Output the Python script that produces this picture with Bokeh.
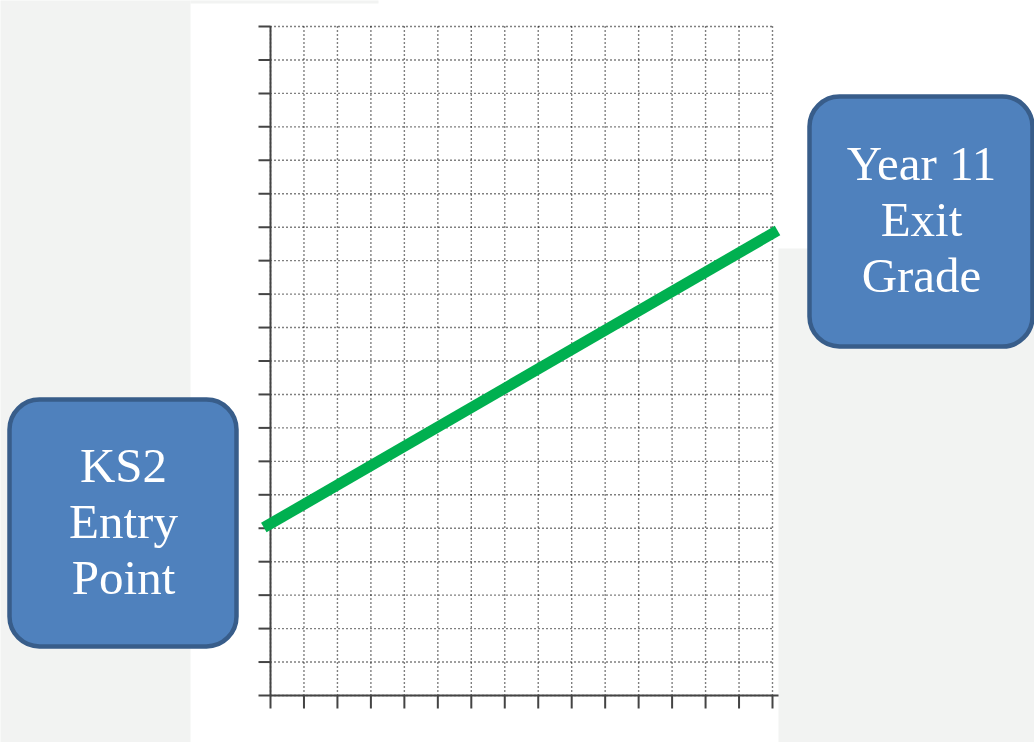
from bokeh.plotting import figure
from bokeh.models import Range1d, BoxAnnotation, Label
from bokeh.embed import file_html
from bokeh.resources import INLINE

# ---- data ----
x_ticks = list(range(16))
y_ticks = list(range(21))
line_x = [-0.2, 15.15]
line_y = [5.02, 13.9]
left_box_lines = ["KS2", "Entry", "Point"]
right_box_lines = ["Year 11", "Exit", "Grade"]

GRAY = "#f2f3f2"
BLUE = "#4f81bd"
BLUE_EDGE = "#385d8a"
GREEN = "#00b050"
AXIS = "#444444"

W, H = 1034, 742
# pixel positions of the chart grid (x 0..15, y 0..20)
PX0, PX1, PY0, PY1 = 270.0, 772.0, 695.0, 26.0
sx = (PX1 - PX0) / 15.0
sy = (PY0 - PY1) / 20.0

p = figure(width=W, height=H, output_backend="svg", toolbar_location=None,
           x_axis_location=None, y_axis_location=None,
           x_range=Range1d(-PX0 / sx, 15 + (W - PX1) / sx),
           y_range=Range1d(-(H - PY0) / sy, 20 + PY1 / sy),
           min_border=0)
p.border_fill_color = "white"
p.background_fill_color = "white"
p.outline_line_color = None
p.grid.visible = False

def dx(px):
    return (px - PX0) / sx
def dy(py):
    return (PY0 - py) / sy

# gray background regions
for l, r, t, b in ((-20, 190, -20, 760), (778, 1060, 248, 760), (190, 378, -20, 3)):
    p.add_layout(BoxAnnotation(left=dx(l), right=dx(r), top=dy(t), bottom=dy(b),
                               fill_color=GRAY, fill_alpha=1, line_color=None,
                               level="underlay"))

# dotted grid from the tick lists
p.segment(x0=x_ticks, y0=[0] * len(x_ticks), x1=x_ticks, y1=[20] * len(x_ticks),
          line_color="#000000", line_dash="1 3", line_width=1.4)
p.segment(x0=[0] * len(y_ticks), y0=y_ticks, x1=[15] * len(y_ticks), y1=y_ticks,
          line_color="#000000", line_dash="1 3", line_width=1.4)

# axes: lines and outside ticks
tick_x_len = 13 / sy
tick_y_len = 12 / sx
p.segment(x0=x_ticks, y0=[0] * len(x_ticks), x1=x_ticks, y1=[-tick_x_len] * len(x_ticks),
          line_color=AXIS, line_width=2)
p.segment(x0=[0] * len(y_ticks), y0=y_ticks, x1=[-tick_y_len] * len(y_ticks), y1=y_ticks,
          line_color=AXIS, line_width=2)
p.segment(x0=[0, 0], y0=[0, 0], x1=[15.18, 0], y1=[0, 20], line_color=AXIS, line_width=2)

# green progress line
p.line(line_x, line_y, line_width=11, line_color=GREEN)

# blue rounded boxes
p.add_layout(BoxAnnotation(left=dx(9), right=dx(236), top=dy(399), bottom=dy(646),
                           fill_color=BLUE, fill_alpha=1, line_color=BLUE_EDGE,
                           line_alpha=1, line_width=4.5, border_radius=30))
p.add_layout(BoxAnnotation(left=dx(809), right=dx(1032), top=dy(96), bottom=dy(346),
                           fill_color=BLUE, fill_alpha=1, line_color=BLUE_EDGE,
                           line_alpha=1, line_width=4.5, border_radius=30))

# box texts
for txt, base in zip(left_box_lines, [465, 521, 577]):
    p.add_layout(Label(x=dx(123), y=dy(base), text=txt, text_align="center",
                       text_baseline="alphabetic", text_color="white",
                       text_font="Liberation Serif", text_font_size="49px"))
for txt, base in zip(right_box_lines, [163, 219, 275]):
    p.add_layout(Label(x=dx(921), y=dy(base), text=txt, text_align="center",
                       text_baseline="alphabetic", text_color="white",
                       text_font="Liberation Serif", text_font_size="49px"))

open("out.html", "w").write(file_html(p, INLINE))
